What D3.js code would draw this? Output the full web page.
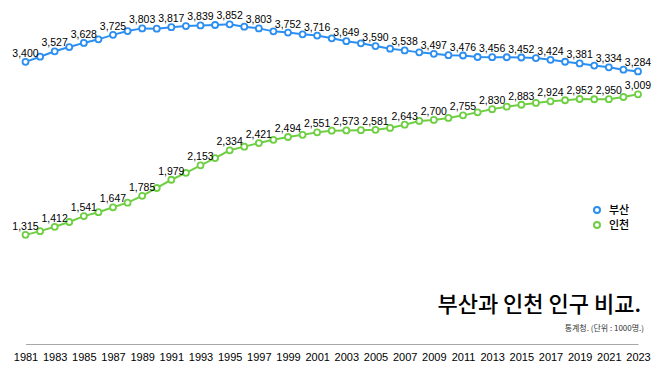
<!DOCTYPE html>
<html>
<head>
<meta charset="utf-8">
<script src="https://cdn.jsdelivr.net/npm/d3@7"></script>
<style>
  body { margin: 0; background: #fff; }
  svg { font-family: "Liberation Sans", Arial, "Noto Sans CJK KR", sans-serif; }
</style>
</head>
<body>
<div id="chart"></div>
<script>
const years = d3.range(1981, 2024);
const busan = [3400, 3462, 3527, 3578, 3628, 3671, 3725, 3771, 3803, 3799, 3817, 3831, 3839, 3844, 3852,
  3823, 3803, 3767, 3752, 3731, 3716, 3683, 3649, 3623, 3590, 3558, 3538, 3514, 3497, 3480, 3476,
  3458, 3456, 3455, 3452, 3445, 3424, 3401, 3381, 3355, 3334, 3305, 3284];
const incheon = [1315, 1360, 1412, 1470, 1541, 1588, 1647, 1703, 1785, 1880, 1979, 2062, 2153, 2240, 2334,
  2378, 2421, 2460, 2494, 2520, 2551, 2570, 2573, 2576, 2581, 2604, 2643, 2688, 2700, 2724, 2755,
  2792, 2830, 2860, 2883, 2905, 2924, 2937, 2952, 2949, 2950, 2976, 3009];
const tickYears = years.filter(y => y % 2 === 1);

const series = [
  { name: "부산", values: busan, color: "#2b8ef0" },
  { name: "인천", values: incheon, color: "#6fcf43" }
];

const width = 658, height = 370;

const svg = d3.select("#chart").append("svg")
  .attr("width", width)
  .attr("height", height);

const x = d3.scalePoint()
  .domain(years)
  .range([25.5, 638]);

const y = d3.scaleLinear()
  .domain([0, 4145])
  .range([344, 0]);

// axis
const xAxis = d3.axisBottom(x)
  .tickValues(tickYears)
  .tickSize(0)
  .tickPadding(9);

const ax = svg.append("g")
  .attr("transform", "translate(0,344)")
  .call(xAxis);
ax.select(".domain").attr("stroke", "#a8a8a8").attr("stroke-width", 1.2);
ax.selectAll("text")
  .attr("font-size", 11)
  .attr("fill", "#000")
  .attr("font-family", "Liberation Sans, Arial, sans-serif");

const line = d3.line()
  .x((d, i) => x(years[i]))
  .y(d => y(d));

series.forEach(s => {
  const g = svg.append("g");
  g.append("path")
    .attr("d", line(s.values))
    .attr("fill", "none")
    .attr("stroke", s.color)
    .attr("stroke-width", 2);

  g.selectAll("circle")
    .data(s.values)
    .enter().append("circle")
    .attr("cx", (d, i) => x(years[i]))
    .attr("cy", d => y(d))
    .attr("r", 3)
    .attr("fill", "#fff")
    .attr("stroke", s.color)
    .attr("stroke-width", 1.8);

  g.selectAll("text")
    .data(s.values.map((v, i) => ({ v: v, yr: years[i] })).filter(d => d.yr % 2 === 1))
    .enter().append("text")
    .attr("x", d => x(d.yr))
    .attr("y", d => y(d.v) - 5)
    .attr("text-anchor", "middle")
    .attr("font-size", 10.5)
    .attr("fill", "#000")
    .text(d => d3.format(",")(d.v));
});

// legend
const legend = svg.append("g").attr("transform", "translate(597,210)");
series.forEach((s, i) => {
  const row = legend.append("g").attr("transform", "translate(0," + (i * 15) + ")");
  row.append("circle")
    .attr("r", 3)
    .attr("fill", "#fff")
    .attr("stroke", s.color)
    .attr("stroke-width", 2);
  row.append("text")
    .attr("x", 12)
    .attr("y", 4)
    .attr("font-size", 11)
    .attr("font-weight", 500)
    .attr("font-family", "Noto Sans CJK KR, sans-serif")
    .text(s.name);
});

// title
svg.append("text")
  .attr("x", 641)
  .attr("y", 312)
  .attr("text-anchor", "end")
  .attr("font-size", 22)
  .attr("font-weight", 500)
  .attr("font-family", "Noto Sans CJK KR, sans-serif")
  .text("부산과 인천 인구 비교.");

svg.append("text")
  .attr("x", 644)
  .attr("y", 331)
  .attr("text-anchor", "end")
  .attr("font-size", 8)
  .attr("fill", "#333")
  .attr("font-family", "Noto Sans CJK KR, sans-serif")
  .text("통계청. (단위 : 1000명.)");
</script>
</body>
</html>
